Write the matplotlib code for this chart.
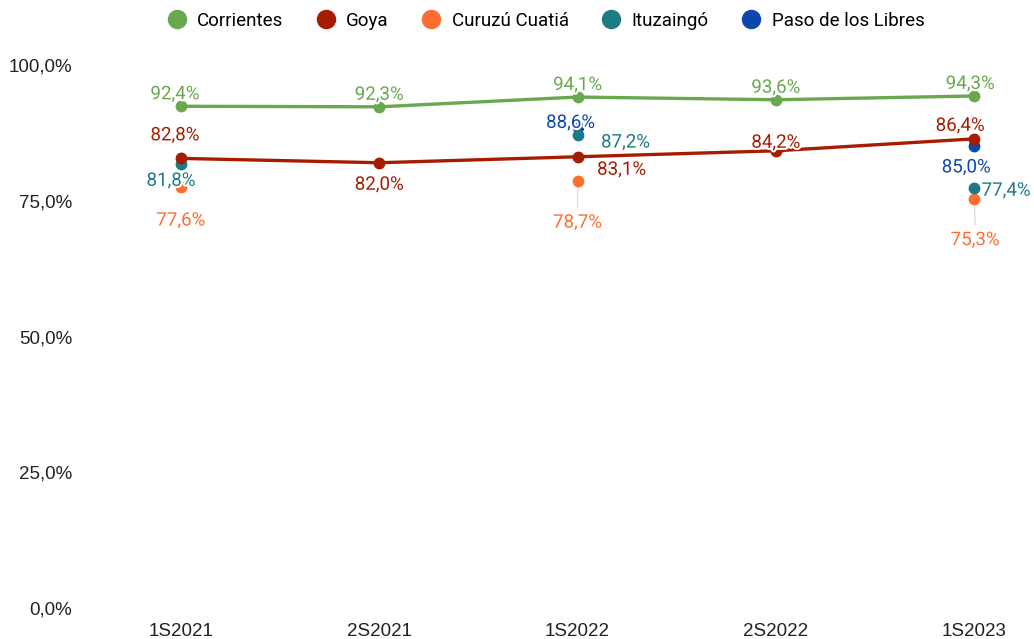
import numpy as np
import matplotlib
matplotlib.use('Agg')
import matplotlib.pyplot as plt
import matplotlib.patheffects as pe

periods = ['1S2021', '2S2021', '1S2022', '2S2022', '1S2023']
corrientes = [92.4, 92.3, 94.1, 93.6, 94.3]
goya = [82.8, 82.0, 83.1, 84.2, 86.4]
curuzu = [77.6, np.nan, 78.7, np.nan, 75.3]
ituzaingo = [81.8, np.nan, 87.2, np.nan, 77.4]
paso = [np.nan, np.nan, 88.6, np.nan, 85.0]

names = ['Corrientes', 'Goya', 'Curuzú Cuatiá', 'Ituzaingó', 'Paso de los Libres']
colors = ['#6AA84F', '#A61C00', '#FF6D31', '#1D7A87', '#0E47AB']
lines_on = [True, True, False, False, False]
zorders = [3, 3.5, 3.1, 3.3, 2.5]

# label offsets in pixels (dx, dy) per series, per period
offsets = [
    [(-6, 12), (0, 12), (0, 12), (0, 12), (-4, 12)],
    [(-6, 23), (0, -22), (44, -13), (0, 8), (-14, 13)],
    [(0, -34), None, (0, -42), None, (1, -41)],
    [(-10, -17), None, (48, -8), None, (32, -3)],
    [None, None, (-7, 4), None, (-8, -21)],
]
leaders = {(2, 2), (2, 4)}

plt.rcParams['font.family'] = ['Roboto', 'DejaVu Sans']
fig = plt.figure(figsize=(10.34, 6.39), dpi=100)
ax = fig.add_axes([82 / 1034, 31 / 639, 948 / 1034, 543 / 639])

x = np.arange(len(periods))
series = [corrientes, goya, curuzu, ituzaingo, paso]
for i, (vals, name, c) in enumerate(zip(series, names, colors)):
    vals = np.array(vals, dtype=float)
    ax.plot(x, vals, color=c, lw=2.4 if lines_on[i] else 0, marker='o', ms=7.5,
            label=name, zorder=zorders[i], clip_on=False)
    for j, v in enumerate(vals):
        if np.isnan(v) or offsets[i][j] is None:
            continue
        dx, dy = offsets[i][j]
        txt = f'{v:.1f}%'.replace('.', ',')
        if (i, j) in leaders:
            ax.annotate('', xy=(j, v), xytext=(dx, dy + 15),
                        textcoords='offset pixels',
                        arrowprops=dict(arrowstyle='-', color='#dddddd',
                                        lw=1, shrinkA=0, shrinkB=5),
                        zorder=2)
        ax.annotate(txt, xy=(j, v), xytext=(dx, dy), textcoords='offset pixels',
                    ha='center', va='center', color=c, fontsize=13.5,
                    zorder=6,
                    path_effects=[pe.withStroke(linewidth=3, foreground='white')])

ax.set_xlim((82 - 181) / 198.3, (1030 - 181) / 198.3)
ax.set_ylim(0, 100)
ax.set_xticks(x)
ax.set_xticklabels(periods)
ax.set_yticks([0, 25, 50, 75, 100])
ax.set_yticklabels(['0,0%', '25,0%', '50,0%', '75,0%', '100,0%'])
for lab in ax.get_xticklabels() + ax.get_yticklabels():
    lab.set_fontfamily(['Liberation Sans', 'DejaVu Sans'])
    lab.set_fontsize(13.5)
    lab.set_color('#222222')
ax.tick_params(length=0)
ax.tick_params(axis='y', pad=7)
ax.tick_params(axis='x', pad=11)
for s in ax.spines.values():
    s.set_visible(False)

handles = [plt.Line2D([], [], lw=0, marker='o', ms=13, color=c) for c in colors]
fig.legend(handles, names, loc='upper center', bbox_to_anchor=(0.526, 1.008),
           ncol=5, frameon=False, handletextpad=0.4, handlelength=1.4,
           columnspacing=1.55, prop={'family': ['Roboto', 'DejaVu Sans'], 'size': 13.5})

fig.savefig('out.png', dpi=100)
